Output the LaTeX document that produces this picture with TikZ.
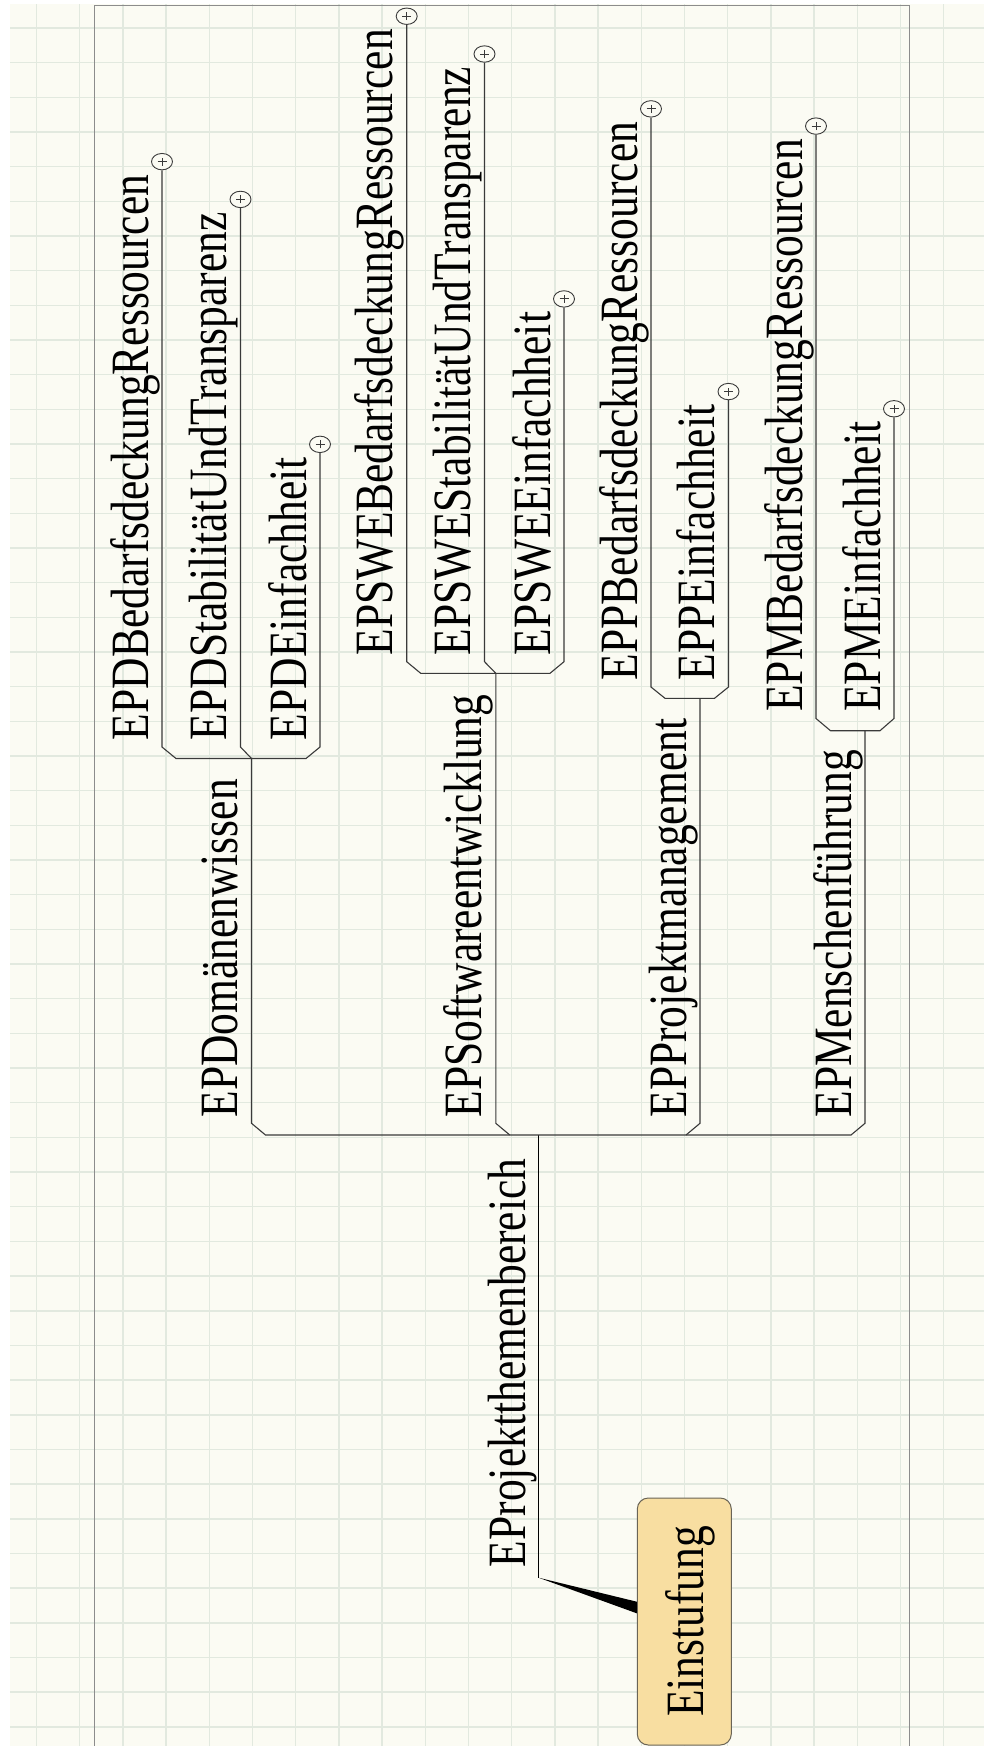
\documentclass[tikz,border=0pt]{standalone}
\usepackage{fontspec}
\usepackage{graphicx}
\setmainfont{Liberation Serif}
\usetikzlibrary{calc,shapes.geometric}

\definecolor{paper}{HTML}{FBFBF3}
\definecolor{gridline}{HTML}{E2E9DF}
\definecolor{framegray}{HTML}{8C8C8C}
\definecolor{rootfill}{HTML}{F8DEA1}
\definecolor{rootedge}{HTML}{6A6456}
\definecolor{wire}{HTML}{3A3A3A}

% labels are set tall and narrow
\newcommand\stretchtext[1]{\scalebox{1}[1.24]{#1}}

\tikzset{
  lbl/.style={rotate=90, inner sep=0pt, outer sep=0pt, anchor=base west,
    font=\fontsize{43.5}{52}\selectfont},
  knob/.style={ellipse, draw=wire, line width=0.9pt, fill=paper,
    minimum width=21pt, minimum height=16.4pt, inner sep=0pt,
    path picture={\draw[wire, line width=0.9pt]
      ([xshift=-4.5pt]path picture bounding box.center) -- ([xshift=4.5pt]path picture bounding box.center)
      ([yshift=-4pt]path picture bounding box.center) -- ([yshift=4pt]path picture bounding box.center);}},
  link/.style={draw=wire, line width=1.1pt, line join=miter},
  rootbox/.style={rotate=90, draw=rootedge, fill=rootfill, line width=1pt,
    rounded corners=11pt, minimum width=247pt, minimum height=94pt,
    inner sep=0pt, text height=40pt, text depth=2.4pt,
    font=\fontsize{43.5}{52}\selectfont},
}

% leaf: name, x of its stem, y where the label starts, label
\newcommand\leafitem[4]{%
  \node[lbl] (#1) at ({#2-14},{-(#3)}) {\stretchtext{#4}};
  \path (#2,0 |- #1.base east) ++(0,13) node[knob] (#1k) {};
}

\begin{document}
\begin{tikzpicture}[x=1pt,y=1pt]
\useasboundingbox (0,0) rectangle (984,-1746);

% paper and grid
\fill[white] (0,0) rectangle (984,-1746);
\fill[paper] (10,-4) rectangle (984,-1746);
\begin{scope}
  \clip (10,-4) rectangle (984,-1746);
  \foreach \k in {0,...,21}
    \draw[gridline, line width=1.4pt] ({36.5+43.2*\k},-4) -- ++(0,-1742);
  \foreach \k in {0,...,49}
    \draw[gridline, line width=1.4pt] (10,{-(28+34.67*\k)}) -- ++(974,0);
\end{scope}
\draw[framegray, line width=1pt] (94,-1746) -- (94,-5) -- (909,-5) -- (909,-1746);

% root
\node[rootbox] (root) at (684.3,-1621.5) {\stretchtext{Einstufung}};
\coordinate (rk) at (538.6,-1577.7);
\fill[black] (rk) -- ($(root.north)+(0,19.8)$) -- ($(root.north)+(0,8.2)$) -- cycle;
\node[lbl] (ep) at (525,-1567) {\stretchtext{EProjektthemenbereich}};
\coordinate (h0) at (538.6,-1135);
\draw[link, line width=1.2pt, draw=black] (rk) -- (h0);

% second level
\node[lbl] (d) at (237.5,-1117.5) {\stretchtext{EPDomänenwissen}};
\node[lbl] (s) at (481.8,-1117.5) {\stretchtext{EPSoftwareentwicklung}};
\node[lbl] (p) at (686,-1117.5) {\stretchtext{EPProjektmanagement}};
\node[lbl] (m) at (851,-1117.5) {\stretchtext{EPMenschenführung}};

\coordinate (dh) at (251.5,-758.5);
\coordinate (sh) at (495.8,-673.3);
\coordinate (ph) at (700,-698.3);
\coordinate (mh) at (865,-730.7);

\draw[link] (dh) -- (251.5,-1123.3) -- (265.5,-1135) -- (851,-1135) -- (865,-1123.3) -- (mh);
\draw[link] (sh) -- (495.8,-1123.3) -- (509.8,-1135);
\draw[link] (ph) -- (700,-1123.3) -- (686,-1135);

% Domaenenwissen leaves
\leafitem{db}{162}{740}{EPDBedarfsdeckungRessourcen}
\leafitem{ds}{240.5}{740}{EPDStabilitätUndTransparenz}
\leafitem{de}{320}{740}{EPDEinfachheit}
\draw[link] (dbk) -- (162,-747) -- (176,-758.5) -- (306,-758.5) -- (320,-747) -- (dek);
\draw[link] (dsk) -- (240.5,-747) -- (dh);

% Softwareentwicklung leaves
\leafitem{sb}{406.7}{655}{EPSWEBedarfsdeckungRessourcen}
\leafitem{ss}{484.5}{655}{EPSWEStabilitätUndTransparenz}
\leafitem{se}{564}{655}{EPSWEEinfachheit}
\draw[link] (sbk) -- (406.7,-661.7) -- (420.7,-673.3) -- (550,-673.3) -- (564,-661.7) -- (sek);
\draw[link] (ssk) -- (484.5,-661.7) -- (sh);

% Projektmanagement leaves
\leafitem{pb}{651}{680}{EPPBedarfsdeckungRessourcen}
\leafitem{pe}{728.5}{680}{EPPEinfachheit}
\draw[link] (pbk) -- (651,-687) -- (665,-698.3) -- (714.5,-698.3) -- (728.5,-687) -- (pek);

% Menschenfuehrung leaves
\leafitem{mb}{816}{711.7}{EPMBedarfsdeckungRessourcen}
\leafitem{me}{894}{711.7}{EPMEinfachheit}
\draw[link] (mbk) -- (816,-718.5) -- (830.5,-730.7) -- (880,-730.7) -- (894,-718.5) -- (mek);
\end{tikzpicture}
\end{document}
